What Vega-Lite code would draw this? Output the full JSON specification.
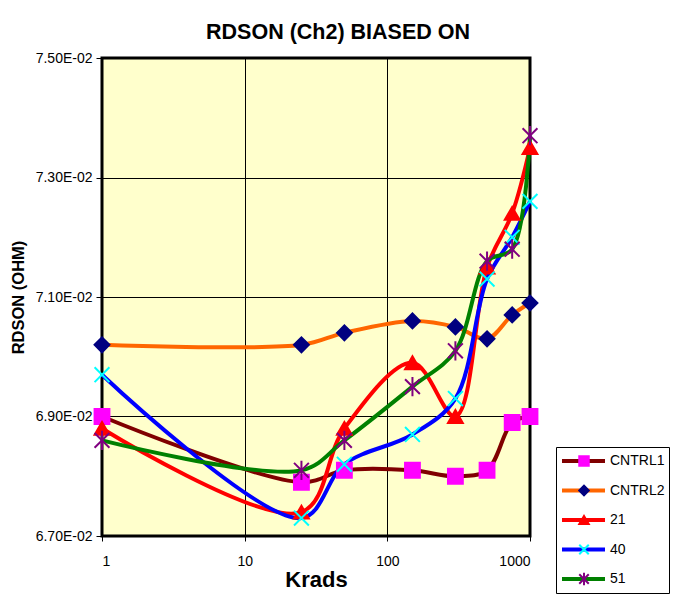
{
  "$schema": "https://vega.github.io/schema/vega-lite/v6.json",
  "width": 428,
  "height": 478,
  "autosize": {"type": "none"},
  "padding": {"left": 102, "top": 58, "right": 149, "bottom": 63},
  "background": "white",
  "title": {"text": "RDSON (Ch2) BIASED ON", "font": "Liberation Sans", "fontSize": 21.5, "fontWeight": "bold", "color": "black", "anchor": "middle", "frame": "group", "dx": 22, "offset": 8},
  "config": {
    "view": {"fill": "#FFFFCC", "stroke": "black", "strokeWidth": 3},
    "font": "Liberation Sans"
  },
  "data": {"values": [
    {"krads": 1, "series": "CNTRL1", "rdson": 0.0690},
    {"krads": 25, "series": "CNTRL1", "rdson": 0.0679},
    {"krads": 50, "series": "CNTRL1", "rdson": 0.0681},
    {"krads": 150, "series": "CNTRL1", "rdson": 0.0681},
    {"krads": 300, "series": "CNTRL1", "rdson": 0.0680},
    {"krads": 500, "series": "CNTRL1", "rdson": 0.0681},
    {"krads": 750, "series": "CNTRL1", "rdson": 0.0689},
    {"krads": 1000, "series": "CNTRL1", "rdson": 0.0690},
    {"krads": 1, "series": "CNTRL2", "rdson": 0.0702},
    {"krads": 25, "series": "CNTRL2", "rdson": 0.0702},
    {"krads": 50, "series": "CNTRL2", "rdson": 0.0704},
    {"krads": 150, "series": "CNTRL2", "rdson": 0.0706},
    {"krads": 300, "series": "CNTRL2", "rdson": 0.0705},
    {"krads": 500, "series": "CNTRL2", "rdson": 0.0703},
    {"krads": 750, "series": "CNTRL2", "rdson": 0.0707},
    {"krads": 1000, "series": "CNTRL2", "rdson": 0.0709},
    {"krads": 1, "series": "21", "rdson": 0.0688},
    {"krads": 25, "series": "21", "rdson": 0.0674},
    {"krads": 50, "series": "21", "rdson": 0.0688},
    {"krads": 150, "series": "21", "rdson": 0.0699},
    {"krads": 300, "series": "21", "rdson": 0.0690},
    {"krads": 500, "series": "21", "rdson": 0.0715},
    {"krads": 750, "series": "21", "rdson": 0.0724},
    {"krads": 1000, "series": "21", "rdson": 0.0735},
    {"krads": 1, "series": "40", "rdson": 0.0697},
    {"krads": 25, "series": "40", "rdson": 0.0673},
    {"krads": 50, "series": "40", "rdson": 0.0682},
    {"krads": 150, "series": "40", "rdson": 0.0687},
    {"krads": 300, "series": "40", "rdson": 0.0693},
    {"krads": 500, "series": "40", "rdson": 0.0713},
    {"krads": 750, "series": "40", "rdson": 0.0720},
    {"krads": 1000, "series": "40", "rdson": 0.0726},
    {"krads": 1, "series": "51", "rdson": 0.0686},
    {"krads": 25, "series": "51", "rdson": 0.0681},
    {"krads": 50, "series": "51", "rdson": 0.0686},
    {"krads": 150, "series": "51", "rdson": 0.0695},
    {"krads": 300, "series": "51", "rdson": 0.0701},
    {"krads": 500, "series": "51", "rdson": 0.0716},
    {"krads": 750, "series": "51", "rdson": 0.0718},
    {"krads": 1000, "series": "51", "rdson": 0.0737}
  ]},
  "encoding": {
    "x": {"field": "krads", "type": "quantitative", "scale": {"type": "log", "domain": [1, 1000]},
      "axis": {"values": [1, 10, 100, 1000], "format": "d", "title": "Krads", "domain": false, "grid": true, "gridColor": "black", "gridWidth": 1, "gridOpacity": 1, "tickColor": "black", "tickSize": 5, "labelFont": "Liberation Sans", "labelFontSize": 14, "labelColor": "black", "labelPadding": 13, "titleFont": "Liberation Sans", "titleFontSize": 22, "titleFontWeight": "bold", "titleColor": "black", "titlePadding": 1}},
    "y": {"field": "rdson", "type": "quantitative", "scale": {"domain": [0.067, 0.075], "nice": false, "zero": false},
      "axis": {"values": [0.067, 0.069, 0.071, 0.073, 0.075], "labelExpr": "format(datum.value*100, '.2f') + 'E-02'", "title": "RDSON (OHM)", "domain": false, "grid": true, "gridColor": "black", "gridWidth": 1, "gridOpacity": 1, "tickColor": "black", "tickSize": 6, "labelFont": "Liberation Sans", "labelFontSize": 14, "labelColor": "black", "labelPadding": 4, "titleFont": "Liberation Sans", "titleFontSize": 16.5, "titleFontWeight": "bold", "titleColor": "black", "titlePadding": 9}}
  },
  "layer": [
    {
      "mark": {"type": "line", "interpolate": "catmull-rom", "strokeWidth": 4},
      "encoding": {
        "color": {"field": "series", "type": "nominal", "sort": null,
          "scale": {"range": ["#800000", "#FF6600", "#FF0000", "#0000FF", "#008000"]},
          "legend": {"orient": "none", "legendX": 454, "legendY": 389, "title": null, "symbolType": "stroke", "symbolSize": 1849, "symbolStrokeWidth": 4, "clipHeight": 20, "rowPadding": 9.5, "padding": 4, "strokeColor": "black", "fillColor": "white", "labelFont": "Liberation Sans", "labelFontSize": 14, "labelColor": "black", "labelOffset": 3}}
      }
    },
    {
      "mark": {"type": "point", "filled": true, "size": 220, "strokeWidth": 2, "opacity": 1},
      "encoding": {
        "shape": {"field": "series", "type": "nominal",
          "scale": {"domain": ["CNTRL1", "CNTRL2", "21", "40", "51"], "range": ["square", "diamond", "triangle-up", "M-1,-1L1,1M1,-1L-1,1", "M-1,-1L1,1M1,-1L-1,1M0,-1.3L0,1.3"]},
          "legend": {"orient": "none", "legendX": 471, "legendY": 389, "title": null, "symbolSize": 90, "symbolStrokeWidth": 2, "clipHeight": 20, "rowPadding": 9.5, "padding": 4, "labelFont": "Liberation Sans", "labelFontSize": 14, "labelExpr": "''"}},
        "fill": {"field": "series", "type": "nominal",
          "scale": {"domain": ["CNTRL1", "CNTRL2", "21", "40", "51"], "range": ["#FF00FF", "#000080", "#FF0000", "#00FFFF", "#800080"]}},
        "stroke": {"field": "series", "type": "nominal",
          "scale": {"domain": ["CNTRL1", "CNTRL2", "21", "40", "51"], "range": ["#FF00FF", "#000080", "#FF0000", "#00FFFF", "#800080"]}}
      }
    }
  ]
}
